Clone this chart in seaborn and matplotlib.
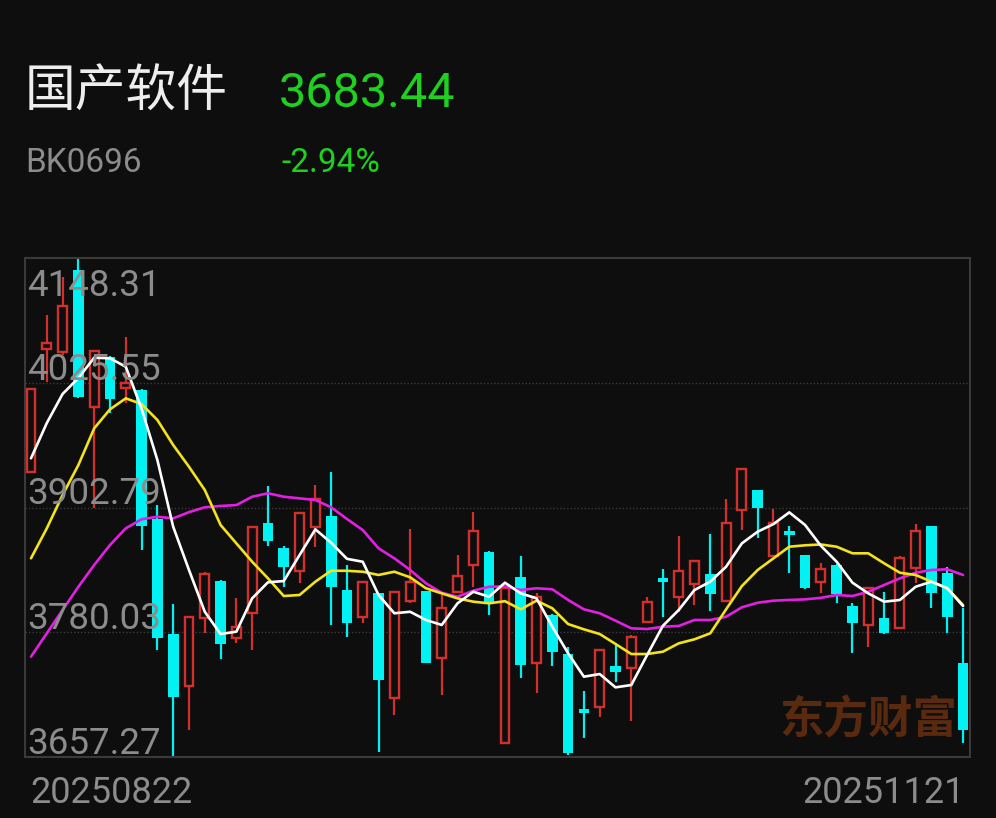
import pandas as pd
import matplotlib
matplotlib.use("Agg")
import matplotlib.pyplot as plt
import seaborn as sns

# daily candles 20250822 .. 20251121
opens = [3938.0, 4059.1, 4055.5, 4136.5, 4001.4, 4050.6, 4020.1, 4018.4, 3891.2, 3778.3,
         3727.1, 3793.7, 3830.4, 3774.1, 3798.7, 3887.2, 3863.2, 3840.3, 3883.3, 3894.4,
         3821.6, 3795.3, 3818.3, 3715.0, 3811.1, 3820.9, 3754.4, 3819.9, 3846.2, 3859.3,
         3671.3, 3834.1, 3750.1, 3797.0, 3758.6, 3704.2, 3706.8, 3746.8, 3744.5, 3790.4,
         3833.1, 3814.4, 3827.2, 3837.3, 3810.8, 3900.3, 3920.0, 3855.1, 3879.9, 3856.0,
         3829.8, 3846.2, 3805.8, 3787.2, 3793.7, 3783.9, 3843.0, 3884.6, 3838.6, 3749.5]
highs = [4019.1, 4092.2, 4129.3, 4148.3, 4058.0, 4052.0, 4070.9, 4019.0, 3905.2, 3807.8,
         3796.0, 3839.6, 3831.0, 3813.4, 3884.0, 3923.9, 3865.0, 3898.5, 3924.9, 3938.0,
         3846.2, 3830.5, 3819.0, 3820.0, 3881.3, 3821.0, 3816.7, 3856.0, 3898.6, 3860.0,
         3824.5, 3855.1, 3818.3, 3798.0, 3765.2, 3722.5, 3763.0, 3767.5, 3777.3, 3814.4,
         3842.0, 3874.7, 3851.0, 3876.4, 3910.8, 3941.0, 3920.5, 3901.0, 3884.6, 3856.5,
         3848.5, 3847.0, 3808.5, 3824.0, 3819.9, 3855.1, 3886.5, 3885.0, 3844.5, 3803.6]
lows = [3938.0, 4026.6, 4053.0, 4010.5, 3902.0, 3995.5, 4005.3, 3861.0, 3762.5, 3657.3,
        3683.8, 3779.6, 3753.4, 3769.7, 3762.5, 3864.9, 3824.8, 3828.2, 3864.2, 3787.2,
        3775.1, 3788.8, 3662.5, 3698.6, 3809.1, 3750.1, 3718.3, 3819.0, 3824.8, 3797.0,
        3671.3, 3734.7, 3719.9, 3746.8, 3659.0, 3675.7, 3696.3, 3731.3, 3693.0, 3790.0,
        3795.3, 3800.3, 3806.8, 3801.2, 3810.0, 3880.6, 3872.5, 3855.0, 3838.6, 3822.5,
        3819.0, 3808.5, 3759.3, 3765.8, 3778.5, 3783.0, 3828.2, 3803.6, 3779.6, 3671.3]
closes = [4019.1, 4064.4, 4101.1, 4011.8, 4057.1, 4009.6, 4025.0, 3884.6, 3774.1, 3716.6,
          3795.3, 3837.3, 3768.5, 3785.5, 3883.3, 3870.1, 3844.5, 3897.7, 3910.8, 3824.3,
          3788.8, 3829.8, 3733.0, 3819.3, 3829.8, 3750.1, 3803.6, 3835.4, 3879.9, 3808.5,
          3823.3, 3747.8, 3815.0, 3760.9, 3661.5, 3700.3, 3762.5, 3741.2, 3775.1, 3810.1,
          3829.2, 3840.6, 3850.4, 3817.4, 3887.2, 3940.4, 3902.6, 3887.2, 3875.7, 3823.3,
          3842.0, 3817.4, 3789.4, 3823.3, 3779.0, 3852.8, 3879.9, 3818.3, 3795.3, 3683.44]

# moving averages as drawn (white / yellow / magenta)
ma5 = [3951.2, 3985.9, 4014.5, 4030.2, 4050.2, 4049.6, 4041.3, 4000.0, 3949.5, 3883.9,
       3841.3, 3800.2, 3778.3, 3780.6, 3813.4, 3829.2, 3830.4, 3856.0, 3881.3, 3868.1,
       3852.3, 3849.4, 3816.7, 3798.7, 3800.2, 3792.1, 3787.2, 3808.5, 3819.9, 3815.0,
       3828.8, 3818.3, 3813.4, 3785.5, 3759.3, 3736.3, 3738.9, 3725.8, 3728.1, 3757.6,
       3786.4, 3801.9, 3821.6, 3829.8, 3844.5, 3867.5, 3879.0, 3886.5, 3898.0, 3885.6,
       3865.1, 3849.4, 3828.8, 3818.3, 3810.1, 3811.8, 3824.8, 3829.8, 3823.3, 3805.8]
ma10 = [3852.8, 3882.3, 3915.1, 3944.6, 3980.7, 3999.4, 4010.2, 4004.6, 3988.9, 3964.3,
        3942.9, 3920.0, 3885.6, 3867.5, 3849.4, 3833.1, 3815.7, 3816.7, 3829.8, 3840.6,
        3840.5, 3839.6, 3836.4, 3839.6, 3834.1, 3823.3, 3818.3, 3813.4, 3810.1, 3808.5,
        3810.6, 3802.6, 3811.1, 3803.6, 3788.1, 3782.9, 3778.3, 3768.5, 3758.6, 3758.6,
        3760.9, 3769.1, 3773.1, 3779.0, 3802.6, 3825.5, 3841.3, 3852.8, 3864.2, 3865.6,
        3866.4, 3864.2, 3857.7, 3857.7, 3847.9, 3838.6, 3836.4, 3829.8, 3823.3, 3806.8]
ma20 = [3756.0, 3779.0, 3801.9, 3824.8, 3846.2, 3865.9, 3882.3, 3891.2, 3893.7, 3892.1,
        3898.2, 3903.0, 3904.3, 3905.2, 3913.4, 3916.8, 3913.4, 3911.8, 3910.2, 3903.0,
        3891.5, 3880.6, 3862.6, 3852.8, 3841.3, 3828.2, 3818.9, 3815.0, 3820.9, 3824.8,
        3825.2, 3821.6, 3823.3, 3822.3, 3811.8, 3802.6, 3798.7, 3791.4, 3783.9, 3783.2,
        3785.5, 3786.2, 3792.1, 3792.1, 3795.3, 3804.6, 3809.1, 3811.1, 3811.8, 3812.4,
        3813.9, 3816.7, 3815.7, 3819.9, 3826.5, 3833.1, 3838.6, 3841.3, 3842.0, 3836.4]

y_levels = [4148.31, 4025.55, 3902.79, 3780.03, 3657.27]
date_labels = ["20250822", "20251121"]

bg = "#0e0e0e"
red = "#d2302c"
cyan = "#00f2f2"
grey = "#8c8c8c"

sns.set_theme(style="dark", rc={"axes.facecolor": bg, "figure.facecolor": bg})
plt.rcParams["font.family"] = ["Roboto", "Noto Sans CJK SC", "DejaVu Sans"]

df = pd.DataFrame({"open": opens, "high": highs, "low": lows, "close": closes,
                   "ma5": ma5, "ma10": ma10, "ma20": ma20})
df["i"] = range(len(df))

fig = plt.figure(figsize=(9.96, 8.18), dpi=100)
ax = fig.add_axes([25 / 996, 1 - 757 / 818, 945 / 996, 499 / 818])

up = df[df["close"] >= df["open"]]
down = df[df["close"] < df["open"]]

# wicks
ax.vlines(up["i"], up["low"], up["high"], color=red, lw=1.6, zorder=2)
ax.vlines(down["i"], down["low"], down["high"], color=cyan, lw=1.6, zorder=2)

# bodies: red hollow, cyan filled
ax.bar(up["i"], (up["close"] - up["open"]).clip(lower=1.5), bottom=up["open"], width=0.56,
       facecolor=bg, edgecolor=red, linewidth=1.7, zorder=3)
ax.bar(down["i"], (down["open"] - down["close"]).clip(lower=3), bottom=down["close"],
       width=0.68, color=cyan, linewidth=0, zorder=3)

sns.lineplot(data=df, x="i", y="ma20", color="#e21fe2", lw=1.9, ax=ax, zorder=4)
sns.lineplot(data=df, x="i", y="ma10", color="#f3e21c", lw=1.9, ax=ax, zorder=4)
sns.lineplot(data=df, x="i", y="ma5", color="#ffffff", lw=1.9, ax=ax, zorder=4)

ax.set_xlim(-0.38, 59.44)
ax.set_ylim(y_levels[-1], y_levels[0])
ax.set_xticks([])
ax.set_yticks([])
ax.set_xlabel("")
ax.set_ylabel("")
ax.grid(False)
for s in ax.spines.values():
    s.set_color("#3a3a3a")
    s.set_linewidth(1.5)

for lv in y_levels[1:-1]:
    ax.axhline(lv, color="#3a3a3a", lw=1.0, ls=(0, (1, 1.5)), zorder=1)

# price labels, drawn on top of the candles
ax.annotate(f"{y_levels[0]:.2f}", xy=(0, y_levels[0]), xycoords=("axes fraction", "data"),
            xytext=(2, -10), textcoords="offset pixels", va="top", ha="left",
            color=grey, fontsize=26.5, zorder=6)
for lv in y_levels[1:]:
    ax.annotate(f"{lv:.2f}", xy=(0, lv), xycoords=("axes fraction", "data"),
                xytext=(2, 3), textcoords="offset pixels", va="baseline", ha="left",
                color=grey, fontsize=26.5, zorder=6)

ax.text(0.987, 0.028, "东方财富", transform=ax.transAxes, ha="right", va="bottom",
        color="#5a2a10", fontsize=32, fontweight="bold",
        family=["Noto Sans CJK SC"], zorder=1)

fig.text(30 / 996, 1 - 803 / 818, date_labels[0], color=grey, fontsize=26,
         ha="left", va="baseline")
fig.text(965 / 996, 1 - 803 / 818, date_labels[1], color=grey, fontsize=26,
         ha="right", va="baseline")

fig.text(25 / 996, 1 - 93 / 818, "国产软件", color="#eeeeee", fontsize=36.5,
         ha="left", va="center")
fig.text(279 / 996, 1 - 107 / 818, f"{closes[-1]:.2f}", color="#1fd11f", fontsize=35,
         ha="left", va="baseline")
fig.text(25 / 996, 1 - 172 / 818, "BK0696", color=grey, fontsize=24,
         ha="left", va="baseline")
fig.text(281 / 996, 1 - 172 / 818, "-2.94%", color="#1fd11f", fontsize=24,
         ha="left", va="baseline")

fig.savefig("out.png", dpi=100, facecolor=bg)
